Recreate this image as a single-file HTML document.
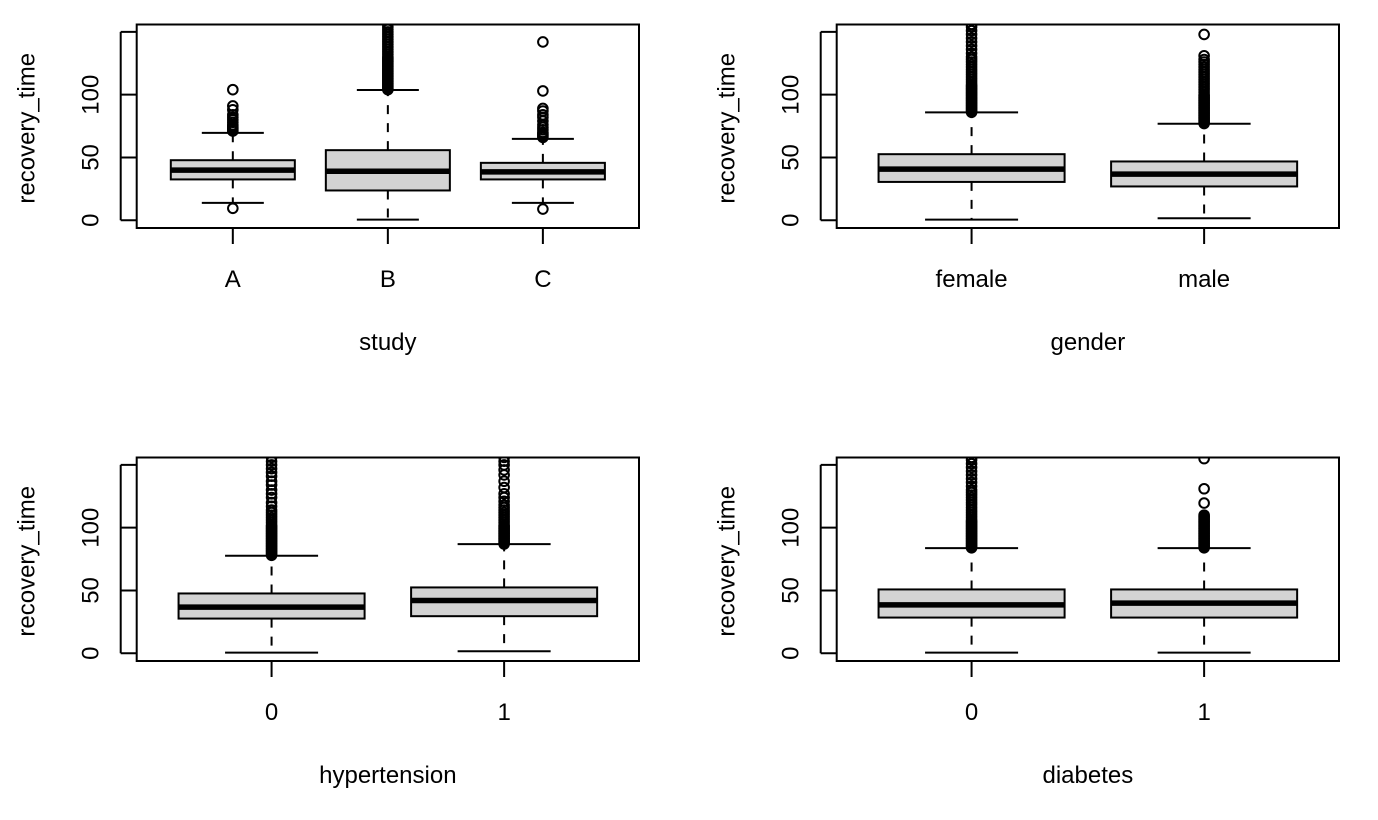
<!DOCTYPE html>
<html><head><meta charset="utf-8"><style>
html,body{margin:0;padding:0;background:#fff;}
svg{display:block;font-family:"Liberation Sans",Arial,sans-serif;}
</style></head><body>
<svg id="chart" width="1378" height="820" viewBox="0 0 1378 820"></svg>
<script>
// ---- data ----
const panelVars = ["study", "gender", "hypertension", "diabetes"];
const studyCats = ["A", "B", "C"];
const studyQ1 = [32.5, 23.7, 32.5];
const studyMed = [39.9, 39.0, 38.5];
const studyQ3 = [47.8, 55.8, 45.7];
const studyLo = [13.8, 0.5, 13.8];
const studyHi = [69.6, 103.7, 64.8];
const studyOut = [
  [9.5, 71, 72, 73, 74, 75, 76, 78, 80, 82, 84, 88, 91, 104],
  [104,105,106,107,108,109,110,111,112,113,114,115,116,117,118,119,120,121,122,123,124,125,126,127,128,129,130,132,134,136,138,140,142,144,146,148,150,152,154,156],
  [8.9, 66, 67, 68, 69, 70, 72, 74, 76, 79, 82, 84, 87, 89, 103, 142]
];
const genderCats = ["female", "male"];
const genderQ1 = [30.5, 26.9];
const genderMed = [40.7, 36.7];
const genderQ3 = [52.6, 46.8];
const genderLo = [0.5, 1.6];
const genderHi = [85.9, 76.8];
const genderOut = [
  [86,87,88,89,90,91,92,93,94,95,96,97,98,99,100,101,102,103,104,105,106,107,108,110,112,114,116,118,120,122,124,126,128,130,133,136,139,142,145,148,151,154,156],
  [77,78,79,80,81,82,83,84,85,86,87,88,89,90,91,92,93,94,95,96,97,98,99,100,102,104,106,108,110,112,114,116,118,120,122,124,126,128,131,148]
];
const hyperCats = ["0", "1"];
const hyperQ1 = [27.6, 29.5];
const hyperMed = [36.7, 42.0];
const hyperQ3 = [47.6, 52.4];
const hyperLo = [0.5, 1.6];
const hyperHi = [77.6, 86.9];
const hyperOut = [
  [78,79,80,81,82,83,84,85,86,87,88,89,90,91,92,93,94,95,96,97,98,99,100,101,102,104,106,108,110,112,114,117,120,124,127,130,134,137,141,144,147,150,153,156],
  [87,88,89,90,91,92,93,94,95,96,97,98,99,100,101,102,104,106,108,110,112,114,116,118,121,124,127,132,137,142,146,150,153,156]
];
const diabCats = ["0", "1"];
const diabQ1 = [28.4, 28.4];
const diabMed = [38.5, 39.9];
const diabQ3 = [50.8, 50.8];
const diabLo = [0.5, 0.5];
const diabHi = [83.7, 83.7];
const diabOut = [
  [84,85,86,87,88,89,90,91,92,93,94,95,96,97,98,99,100,101,102,103,104,105,106,108,110,112,114,116,118,120,122,124,126,128,130,133,136,139,142,145,148,151,154,156],
  [84,85,86,87,88,89,90,91,92,93,94,95,96,97,98,99,100,101,102,103,104,105,106,107,108,109,110,119.6,131,155]
];
const yTicks = [0, 50, 100, 150];
const yTickLabels = ["0", "50", "100", ""];

// ---- drawing ----
const NS = "http://www.w3.org/2000/svg";
const svg = document.getElementById("chart");
function mk(tag, attrs, parent) {
  const e = document.createElementNS(NS, tag);
  for (const k in attrs) e.setAttribute(k, attrs[k]);
  (parent || svg).appendChild(e);
  return e;
}
const panels = [
  {name: panelVars[0], cats: studyCats, q1: studyQ1, med: studyMed, q3: studyQ3, lo: studyLo, hi: studyHi, out: studyOut, L: 136.7, R: 639, T: 24.5, B: 228},
  {name: panelVars[1], cats: genderCats, q1: genderQ1, med: genderMed, q3: genderQ3, lo: genderLo, hi: genderHi, out: genderOut, L: 836.7, R: 1339, T: 24.5, B: 228},
  {name: panelVars[2], cats: hyperCats, q1: hyperQ1, med: hyperMed, q3: hyperQ3, lo: hyperLo, hi: hyperHi, out: hyperOut, L: 136.7, R: 639, T: 457.5, B: 661},
  {name: panelVars[3], cats: diabCats, q1: diabQ1, med: diabMed, q3: diabQ3, lo: diabLo, hi: diabHi, out: diabOut, L: 836.7, R: 1339, T: 457.5, B: 661}
];
const yMin = -6.2, yMax = 155.9;
const FS = 24;
panels.forEach((p, pi) => {
  const g = mk("g", {});
  
  
  const n = p.cats.length;
  const span = n * 1.08;
  const unit = (p.R - p.L) / span;
  const xs = i => p.L + (i + 1 - 0.5 + 0.04 * n) * unit;
  const ys = v => p.B - (v - yMin) / (yMax - yMin) * (p.B - p.T);
  const clipId = "clip" + pi;
  const cp = mk("clipPath", {id: clipId}, g);
  mk("rect", {x: p.L, y: p.T, width: p.R - p.L, height: p.B - p.T}, cp);
  const plot = mk("g", {"clip-path": "url(#" + clipId + ")"}, g);
  const bw = 0.8 * unit;
  for (let i = 0; i < n; i++) {
    const cx = xs(i);
    const q1 = p.q1[i], med = p.med[i], q3 = p.q3[i], lo = p.lo[i], hi = p.hi[i];
    const bg = mk("g", {}, plot);
    
    
    mk("line", {x1: cx, x2: cx, y1: ys(q3), y2: ys(hi), stroke: "#000", "stroke-width": 2, "stroke-dasharray": "9,9"}, bg);
    mk("line", {x1: cx, x2: cx, y1: ys(q1), y2: ys(lo), stroke: "#000", "stroke-width": 2, "stroke-dasharray": "9,9"}, bg);
    mk("line", {x1: cx - bw / 4, x2: cx + bw / 4, y1: ys(hi), y2: ys(hi), stroke: "#000", "stroke-width": 2}, bg);
    mk("line", {x1: cx - bw / 4, x2: cx + bw / 4, y1: ys(lo), y2: ys(lo), stroke: "#000", "stroke-width": 2}, bg);
    mk("rect", {x: cx - bw / 2, y: ys(q3), width: bw, height: ys(q1) - ys(q3), fill: "#d3d3d3", stroke: "#000", "stroke-width": 2}, bg);
    mk("line", {x1: cx - bw / 2, x2: cx + bw / 2, y1: ys(med), y2: ys(med), stroke: "#000", "stroke-width": 5.5}, bg);
    p.out[i].forEach(v => {
      const c = mk("circle", {cx: cx, cy: ys(v), r: 4.8, fill: "none", stroke: "#000", "stroke-width": 2}, bg);
      
      
    });
  }
  const frame = mk("rect", {x: p.L, y: p.T, width: p.R - p.L, height: p.B - p.T, fill: "none", stroke: "#000", "stroke-width": 2}, g);
  
  
  const ya = mk("g", {}, g);
  
  
  mk("line", {x1: p.L - 16, x2: p.L - 16, y1: ys(0), y2: ys(150), stroke: "#000", "stroke-width": 2}, ya);
  yTicks.forEach((t, k) => {
    mk("line", {x1: p.L - 16, x2: p.L, y1: ys(t), y2: ys(t), stroke: "#000", "stroke-width": 2}, ya);
    if (yTickLabels[k]) {
      const tx = mk("text", {x: 0, y: 0, transform: "translate(" + (p.L - 38) + "," + ys(t) + ") rotate(-90)", "text-anchor": "middle", "font-size": FS}, ya);
      tx.textContent = yTickLabels[k];
    }
  });
  const yt = mk("text", {x: 0, y: 0, transform: "translate(" + (p.L - 102) + "," + ((p.T + p.B) / 2 + 2) + ") rotate(-90)", "text-anchor": "middle", "font-size": FS}, g);
  
  
  yt.textContent = "recovery_time";
  const xa = mk("g", {}, g);
  
  
  mk("line", {x1: xs(0), x2: xs(n - 1), y1: p.B, y2: p.B, stroke: "#000", "stroke-width": 2}, xa);
  for (let i = 0; i < n; i++) {
    mk("line", {x1: xs(i), x2: xs(i), y1: p.B, y2: p.B + 16, stroke: "#000", "stroke-width": 2}, xa);
    const tl = mk("text", {x: xs(i), y: p.B + 59, "text-anchor": "middle", "font-size": FS}, xa);
    tl.textContent = p.cats[i];
  }
  const xt = mk("text", {x: (p.L + p.R) / 2, y: p.B + 122, "text-anchor": "middle", "font-size": FS}, g);
  
  
  xt.textContent = p.name;
});
</script>
</body></html>
